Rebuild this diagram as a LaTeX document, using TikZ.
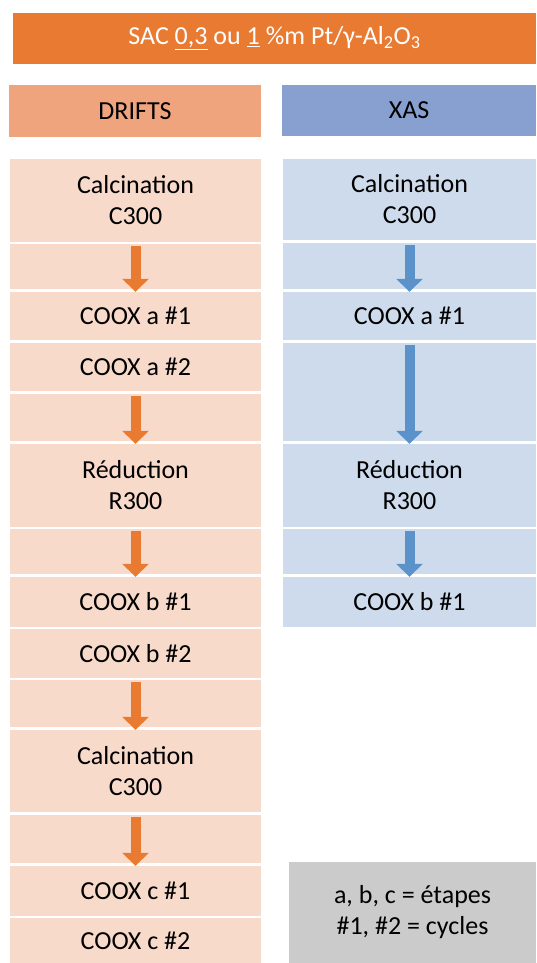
\documentclass[tikz,border=0pt]{standalone}
\usepackage{fontspec}
\setmainfont{Carlito}
\usetikzlibrary{arrows.meta,positioning}
\definecolor{titleorange}{HTML}{E97A31}
\definecolor{driftshead}{HTML}{F0A47E}
\definecolor{xashead}{HTML}{87A0D0}
\definecolor{driftsrow}{HTML}{F8DACA}
\definecolor{xasrow}{HTML}{CEDBEC}
\definecolor{arrowblue}{HTML}{5B92CA}
\definecolor{legendgray}{HTML}{CBCBCB}

\begin{document}
\begin{tikzpicture}[x=1pt, y=-1pt,
  every node/.style={font=\fontsize{26}{31}\selectfont, inner sep=0pt, align=center},
  driftsbox/.style={fill=driftsrow, minimum width=251pt},
  xasbox/.style={fill=xasrow, minimum width=253pt},
  flowarrow/.style={line width=10pt, -{Triangle[width=26pt,length=13pt]}}
]
\useasboundingbox (0,0) rectangle (536,963);

% header
\node[fill=titleorange, text=white, minimum width=523pt, minimum height=51pt] (title) at (274.5,38.5)
  {SAC \underline{0,3} ou \underline{1} \%m Pt/γ-Al\textsubscript{2}O\textsubscript{3}};
\node[fill=driftshead, minimum width=252pt, minimum height=52pt] (drifts) at (135,111) {DRIFTS};
\node[fill=xashead, minimum width=254pt, minimum height=51pt] (xas) at (409,110.5) {XAS};

% DRIFTS column
\node[driftsbox, minimum height=83pt] (dcalcA) at (135.5,200.5) {Calcination\\C300};
\node[driftsbox, minimum height=45pt] (darr1) at (135.5,266.5) {};
\node[driftsbox, minimum height=48pt] (dcooxa1) at (135.5,316) {COOX a \#1};
\node[driftsbox, minimum height=48pt] (dcooxa2) at (135.5,367) {COOX a \#2};
\node[driftsbox, minimum height=47pt] (darr2) at (135.5,417.5) {};
\node[driftsbox, minimum height=83pt] (dred) at (135.5,485.5) {Réduction\\R300};
\node[driftsbox, minimum height=45pt] (darr3) at (135.5,551.5) {};
\node[driftsbox, minimum height=50pt] (dcooxb1) at (135.5,602) {COOX b \#1};
\node[driftsbox, minimum height=49pt] (dcooxb2) at (135.5,653.5) {COOX b \#2};
\node[driftsbox, minimum height=47pt] (darr4) at (135.5,703.5) {};
\node[driftsbox, minimum height=82pt] (dcalcB) at (135.5,771) {Calcination\\C300};
\node[driftsbox, minimum height=48pt] (darr5) at (135.5,839) {};
\node[driftsbox, minimum height=50pt] (dcooxc1) at (135.5,891) {COOX c \#1};
\node[driftsbox, minimum height=45pt] (dcooxc2) at (135.5,940.5) {COOX c \#2};

\draw[flowarrow, titleorange] ([yshift=-2pt]darr1.north) -- (dcooxa1.north);
\draw[flowarrow, titleorange] ([yshift=-2pt]darr2.north) -- (dred.north);
\draw[flowarrow, titleorange] ([yshift=-2pt]darr3.north) -- (dcooxb1.north);
\draw[flowarrow, titleorange] ([yshift=-2pt]darr4.north) -- (dcalcB.north);
\draw[flowarrow, titleorange] ([yshift=-2pt]darr5.north) -- (dcooxc1.north);

% XAS column
\node[xasbox, minimum height=81pt] (xcalc) at (409.5,199.5) {Calcination\\C300};
\node[xasbox, minimum height=46pt] (xarr1) at (409.5,266) {};
\node[xasbox, minimum height=48pt] (xcooxa1) at (409.5,316) {COOX a \#1};
\node[xasbox, minimum height=98pt] (xarr2) at (409.5,392) {};
\node[xasbox, minimum height=83pt] (xred) at (409.5,485.5) {Réduction\\R300};
\node[xasbox, minimum height=45pt] (xarr3) at (409.5,551.5) {};
\node[xasbox, minimum height=50pt] (xcooxb1) at (409.5,602) {COOX b \#1};

\draw[flowarrow, arrowblue] ([yshift=-2pt]xarr1.north) -- (xcooxa1.north);
\draw[flowarrow, arrowblue] ([yshift=-2pt]xarr2.north) -- (xred.north);
\draw[flowarrow, arrowblue] ([yshift=-2pt]xarr3.north) -- (xcooxb1.north);

% legend
\node[fill=legendgray, minimum width=247pt, minimum height=101pt] (legend) at (412.5,912.5)
  {a, b, c = étapes\\\#1, \#2 = cycles};
\end{tikzpicture}
\end{document}
